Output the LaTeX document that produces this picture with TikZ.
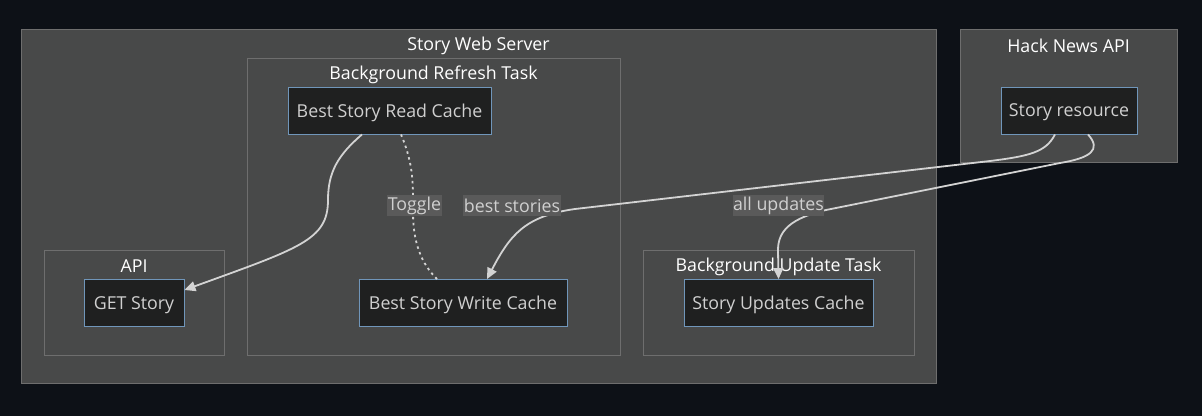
\documentclass[tikz,border=0pt]{standalone}
\usepackage{fontspec}
\setmainfont{Open Sans}
\usetikzlibrary{arrows.meta}
\definecolor{pagebg}{HTML}{0D1117}
\definecolor{clfill}{HTML}{484949}
\definecolor{cldraw}{HTML}{6E6E6E}
\definecolor{nodefill}{HTML}{1F2020}
\definecolor{nodedraw}{HTML}{7096BA}
\definecolor{edgec}{HTML}{D3D3D3}
\definecolor{labbg}{HTML}{5A5A5A}
\definecolor{nodetext}{HTML}{D0D0D0}
\tikzset{
  cluster/.style={draw=cldraw, fill=clfill, line width=0.8pt, inner sep=0pt},
  cltitle/.style={text=white, font=\fontsize{17.8}{20}\selectfont, inner sep=0pt},
  box/.style={draw=nodedraw, fill=nodefill, line width=0.9pt, text=nodetext,
    font=\fontsize{17.8}{20}\selectfont, minimum height=47pt, inner sep=0pt,
    text depth=0.5pt},
  conn/.style={draw=edgec, line width=1.8pt, -{Triangle[length=11pt,width=10pt]}},
  dotconn/.style={draw=edgec, line width=1.8pt, dash pattern=on 2.5pt off 3.5pt},
  elabel/.style={fill=labbg, text=nodetext, font=\fontsize{17.8}{20}\selectfont,
    inner xsep=0.5pt, minimum height=21pt, inner ysep=0pt}
}
\begin{document}
\begin{tikzpicture}[x=1pt,y=-1pt]
\fill[pagebg] (0,0) rectangle (1202,416);
\useasboundingbox (0,0) rectangle (1202,416);
% clusters
\node[cluster, minimum width=915pt, minimum height=354pt] (sws) at (478.5,206) {};
\node[cltitle] (tsws) at (478.5,45.5) {Story Web Server};
\node[cluster, minimum width=217pt, minimum height=133pt] (hn) at (1068.5,95.5) {};
\node[cltitle] (thn) at (1068.5,45.5) {Hack News API};
\node[cluster, minimum width=373pt, minimum height=297pt] (brt) at (433.5,206.5) {};
\node[cltitle] (tbrt) at (433.5,74.5) {Background Refresh Task};
\node[cluster, minimum width=180pt, minimum height=105pt] (api) at (134,302.5) {};
\node[cltitle] (tapi) at (134,266.5) {API};
\node[cluster, minimum width=271pt, minimum height=105pt] (but) at (778.5,302.5) {};
\node[cltitle] (tbut) at (778.5,266.5) {Background Update Task};
% nodes
\node[box, minimum width=203pt] (read) at (389.5,110.5) {Best Story Read Cache};
\node[box, minimum width=208pt] (write) at (463,303) {Best Story Write Cache};
\node[box, minimum width=100pt] (get) at (134,303) {GET Story};
\node[box, minimum width=189pt] (upd) at (778.5,303) {Story Updates Cache};
\node[box, minimum width=136pt] (res) at (1069,110.5) {Story resource};
% edges
\draw[conn] ([xshift=-27.5pt]read.south) .. controls (338,155) and (328,172) .. (328,200)
  .. controls (328,240) and (300,248) .. ([yshift=13pt]get.east);
\draw[dotconn] ([xshift=11.5pt]read.south) .. controls (414,165) and (413,185) .. (413,212)
  .. controls (413,250) and (426,268) .. ([xshift=-26pt]write.north);
\draw[conn] ([xshift=-14pt]res.south) .. controls (1046,152) and (1030,156) .. (990,161)
  -- (575,209) .. controls (525,216) and (510,235) .. ([xshift=24pt]write.north);
\draw[conn] ([xshift=19pt]res.south) .. controls (1102,150) and (1090,158) .. (1060,163)
  -- (826,210) .. controls (792,218) and (778,230) .. (778,250) -- (upd.north);
% edge labels
\node[elabel] (lt) at (414.5,205.5) {Toggle};
\node[elabel] (lb) at (512,205.5) {best stories};
\node[elabel] (la) at (778.5,205.5) {all updates};
\end{tikzpicture}
\end{document}
